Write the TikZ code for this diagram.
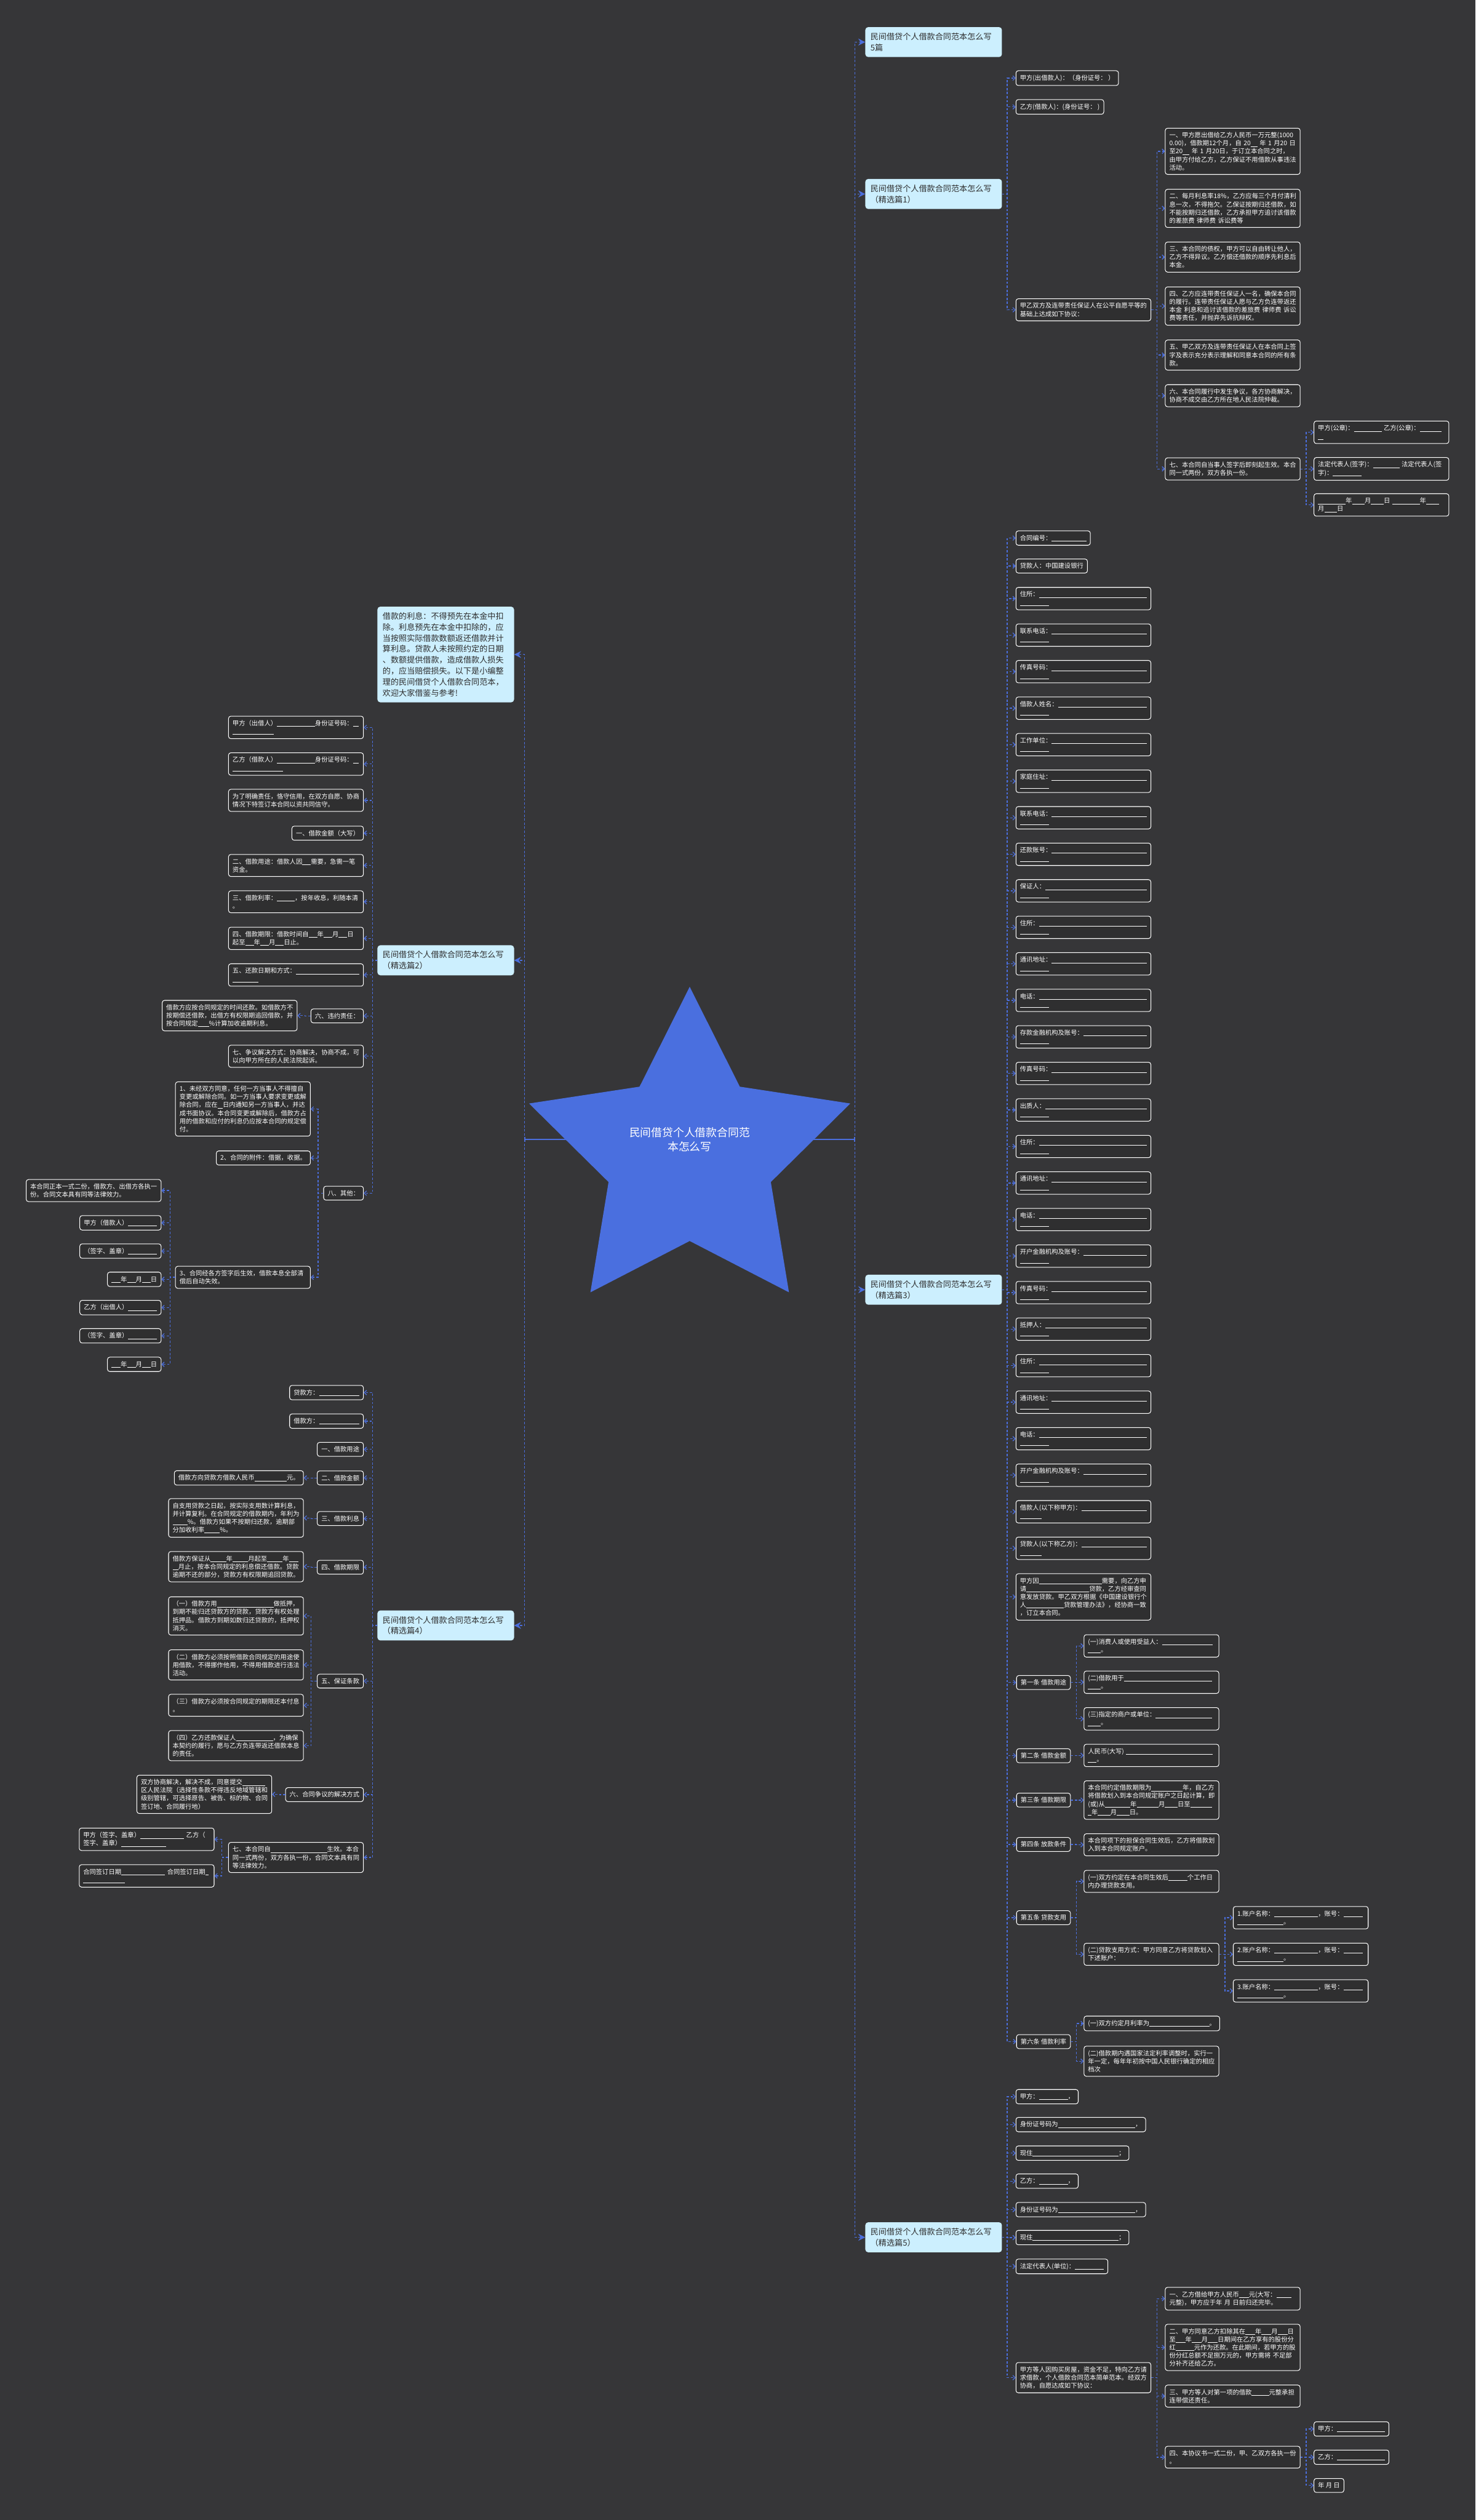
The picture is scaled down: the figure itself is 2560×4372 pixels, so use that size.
\documentclass[tikz,border=0pt]{standalone}
\usepackage{fontspec}
\newfontfamily\cjk{Noto Sans CJK SC}
\usetikzlibrary{arrows.meta}
\definecolor{bgc}{HTML}{363638}
\definecolor{leafbg}{HTML}{2F2F30}
\definecolor{topicbg}{HTML}{CCEFFE}
\definecolor{topictext}{HTML}{2E2E2E}
\definecolor{linkblue}{HTML}{4B6EDC}
\definecolor{starblue}{HTML}{4A6FDF}
\newcommand\fillin[1]{\rule[-1.6pt]{#1pt}{0.7pt}}
\newcommand\blankfill{\leavevmode\leaders\hrule height -0.9pt depth 1.6pt\hfill\kern0pt}

\begin{document}
\begin{tikzpicture}[x=1pt,y=-1pt,
  leaf/.style={draw=white,line width=1.1pt,fill=leafbg,rounded corners=4pt,text=white,
    font=\cjk\fontsize{11}{14}\selectfont,inner xsep=7pt,inner ysep=7pt,align=left},
  wide/.style={leaf,text width=220pt},
  topic/.style={fill=topicbg,rounded corners=5pt,text=topictext,
    font=\cjk\fontsize{14}{19}\selectfont,text width=219pt,inner xsep=9pt,inner ysep=10pt,align=left},
  link/.style={draw=linkblue,line width=1.4pt,dash pattern=on 4pt off 3pt,
    -{Straight Barb[length=4pt,width=8pt]}},
  main/.style={draw=linkblue,line width=1.4pt,dash pattern=on 4pt off 3pt,
    -{Stealth[length=12pt,width=12pt,inset=4pt]}}]
  \useasboundingbox (0,0) rectangle (2560,4372);
  \fill[bgc] (0,0) rectangle (2560,4372);

  \coordinate (lhub) at (910,1977);
  \coordinate (rhub) at (1483,1977);
  \draw[linkblue,line width=2pt,{Bar[width=8pt]}-{Bar[width=8pt]}] (lhub) -- (rhub);
  \foreach \k in {0,...,4} {
    \coordinate (so\k) at ({1196.5+293*cos(90+72*\k)},{2005-293*sin(90+72*\k)});
    \coordinate (si\k) at ({1196.5+148*cos(126+72*\k)},{2005-148*sin(126+72*\k)});
  }
  \fill[starblue] (so0) -- (si0) -- (so1) -- (si1) -- (so2) -- (si2) -- (so3) -- (si3) -- (so4) -- (si4) -- cycle;
  \node[text=white,font=\cjk\fontsize{19}{25}\selectfont,align=center] (root) at (1196.5,1977)
    {民间借贷个人借款合同范\\本怎么写};

  \node[topic,anchor=west] (jx0) at (1501,73) {民间借贷个人借款合同范本怎么写\\5篇};
  \node[topic,anchor=west] (jx1) at (1501,336.5) {民间借贷个人借款合同范本怎么写\\（精选篇1）};
  \node[topic,anchor=west] (jx3) at (1501,2237.5) {民间借贷个人借款合同范本怎么写\\（精选篇3）};
  \node[topic,anchor=west] (jx5) at (1501,3881.5) {民间借贷个人借款合同范本怎么写\\（精选篇5）};
  \node[topic,anchor=east] (intro) at (892,1135.5)
    {借款的利息：不得预先在本金中扣\\除。利息预先在本金中扣除的，应\\当按照实际借款数额返还借款并计\\算利息。贷款人未按照约定的日期\\、数额提供借款，造成借款人损失\\的，应当赔偿损失。以下是小编整\\理的民间借贷个人借款合同范本，\\欢迎大家借鉴与参考!};
  \node[topic,anchor=east] (jx2) at (892,1666) {民间借贷个人借款合同范本怎么写\\（精选篇2）};
  \node[topic,anchor=east] (jx4) at (892,2820) {民间借贷个人借款合同范本怎么写\\（精选篇4）};

  \node[leaf,anchor=west] (jf1) at (1762,135.5) {甲方(出借款人)：（身份证号：~）};
  \node[leaf,anchor=west] (yf1) at (1762,185.5) {乙方(借款人)：(身份证号：~)};
  \node[wide,anchor=west] (xy1) at (1762,537.5) {甲乙双方及连带责任保证人在公平自愿平等的\\基础上达成如下协议：};
  \node[wide,anchor=west] (t1) at (2021,262.5) {一、甲方愿出借给乙方人民币一万元整(1000\\0.00)，借款期12个月，自~20\fillin{12}~年~1~月20~日\\至20\fillin{12}~年~1~月20日，于订立本合同之时，\\由甲方付给乙方，乙方保证不用借款从事违法\\活动。};
  \node[wide,anchor=west] (t2) at (2021,361.5) {二、每月利息率18\%，乙方应每三个月付清利\\息一次，不得拖欠。乙保证按期归还借款，如\\不能按期归还借款，乙方承担甲方追讨该借款\\的差旅费~律师费~诉讼费等};
  \node[wide,anchor=west] (t3) at (2021,446) {三、本合同的债权，甲方可以自由转让他人，\\乙方不得异议。乙方偿还借款的顺序先利息后\\本金。};
  \node[wide,anchor=west] (t4) at (2021,531) {四、乙方应连带责任保证人一名，确保本合同\\的履行。连带责任保证人愿与乙方负连带返还\\本金~利息和追讨该借款的差旅费~律师费~诉讼\\费等责任，并抛弃先诉抗辩权。};
  \node[wide,anchor=west] (t5) at (2021,616) {五、甲乙双方及连带责任保证人在本合同上签\\字及表示充分表示理解和同意本合同的所有条\\款。};
  \node[wide,anchor=west] (t6) at (2021,686.5) {六、本合同履行中发生争议，各方协商解决，\\协商不成交由乙方所在地人民法院仲裁。};
  \node[wide,anchor=west] (t7) at (2021,813.5) {七、本合同自当事人签字后即刻起生效。本合\\同一式两份，双方各执一份。};
  \node[wide,anchor=west] (s1) at (2279,750) {甲方(公章)：\fillin{48}~乙方(公章)：\fillin{38}\\\fillin{9}};
  \node[wide,anchor=west] (s2) at (2279,813.5) {法定代表人(签字)：\fillin{46}~法定代表人(签\\字)：\fillin{50}};
  \node[wide,anchor=west] (s3) at (2279,876) {\fillin{48}年\fillin{22}月\fillin{22}日~\fillin{48}年\fillin{22}\\月\fillin{22}日};

  \node[leaf,anchor=west] (bh) at (1762,933.5) {合同编号：\fillin{60}};
  \node[leaf,anchor=west] (dkr) at (1762,982) {贷款人：中国建设银行};
  \foreach \lab [count=\i from 0] in {住所,联系电话,传真号码,借款人姓名,工作单位,家庭住址,联系电话,还款账号,保证人,住所,通讯地址,电话,存款金融机构及账号,传真号码,出质人,住所,通讯地址,电话,开户金融机构及账号,传真号码,抵押人,住所,通讯地址,电话,开户金融机构及账号}
    \node[wide,anchor=west] (f\i) at (1762,{1038.5+63.37*\i}) {\lab：\blankfill\\\fillin{50}};
  \node[wide,anchor=west] (f25) at (1762,{1038.5+63.37*25}) {借款人(以下称甲方)：\blankfill\\\fillin{38}};
  \node[wide,anchor=west] (f26) at (1762,{1038.5+63.37*26}) {贷款人(以下称乙方)：\blankfill\\\fillin{38}};
  \node[wide,anchor=west] (sq) at (1762,2770.5) {甲方因\fillin{109}需要，向乙方申\\请\fillin{109}贷款，乙方经审查同\\意发放贷款。甲乙双方根据《中国建设银行个\\人\fillin{65}贷款管理办法》，经协商一致\\，订立本合同。};
  \node[leaf,anchor=west] (a1) at (1763,2919) {第一条~借款用途};
  \node[leaf,anchor=west] (a2) at (1763,3046) {第二条~借款金额};
  \node[leaf,anchor=west] (a3) at (1763,3123) {第三条~借款期限};
  \node[leaf,anchor=west] (a4) at (1763,3200) {第四条~放款条件};
  \node[leaf,anchor=west] (a5) at (1763,3327) {第五条~贷款支用};
  \node[leaf,anchor=west] (a6) at (1763,3542) {第六条~借款利率};
  \node[wide,anchor=west] (a1a) at (1880,2855.5) {(一)消费人或使用受益人：\fillin{88}\\\fillin{22}。};
  \node[wide,anchor=west] (a1b) at (1880,2918.5) {(二)借款用于\fillin{153}\\\fillin{22}。};
  \node[wide,anchor=west] (a1c) at (1880,2982) {(三)指定的商户或单位：\fillin{98}\\\fillin{22}。};
  \node[wide,anchor=west] (a2a) at (1880,3045.5) {人民币(大写)~\fillin{150}\\\fillin{15}。};
  \node[wide,anchor=west] (a3a) at (1880,3123) {本合同约定借款期限为\fillin{54}年，自乙方\\将借款划入到本合同规定账户之日起计算，即\\(或)从\fillin{44}年\fillin{38}月\fillin{22}日至\fillin{38}\\\fillin{6}年\fillin{22}月\fillin{22}日。};
  \node[wide,anchor=west] (a4a) at (1880,3200.5) {本合同项下的担保合同生效后，乙方将借款划\\入到本合同规定账户。};
  \node[wide,anchor=west] (a5a) at (1880,3264) {(一)双方约定在本合同生效后\fillin{33}个工作日\\内办理贷款支用。};
  \node[wide,anchor=west] (a5b) at (1880,3390.5) {(二)贷款支用方式：甲方同意乙方将贷款划入\\下述账户：};
  \node[wide,anchor=west] (zh1) at (2139,3327) {1.账户名称：\fillin{76}，账号：\fillin{33}\\\fillin{80}。};
  \node[wide,anchor=west] (zh2) at (2139,3390.5) {2.账户名称：\fillin{76}，账号：\fillin{33}\\\fillin{80}。};
  \node[wide,anchor=west] (zh3) at (2139,3454) {3.账户名称：\fillin{76}，账号：\fillin{33}\\\fillin{80}。};
  \node[leaf,anchor=west] (a6a) at (1880,3510.5) {(一)双方约定月利率为\fillin{104}。};
  \node[wide,anchor=west] (a6b) at (1880,3576) {(二)借款期内遇国家法定利率调整时，实行一\\年一定，每年年初按中国人民银行确定的相应\\档次};

  \node[leaf,anchor=west] (p1) at (1762,3637.5) {甲方：\fillin{50}，};
  \node[leaf,anchor=west] (p2) at (1762,3686) {身份证号码为\fillin{134}，};
  \node[leaf,anchor=west] (p3) at (1762,3735.5) {现住\fillin{149}；};
  \node[leaf,anchor=west] (p4) at (1762,3784) {乙方：\fillin{50}，};
  \node[leaf,anchor=west] (p5) at (1762,3833.5) {身份证号码为\fillin{134}，};
  \node[leaf,anchor=west] (p6) at (1762,3882) {现住\fillin{149}；};
  \node[leaf,anchor=west] (p7) at (1762,3932) {法定代表人(单位)：\fillin{50}};
  \node[wide,anchor=west] (p8) at (1762,4125) {甲方等人因购买房屋，资金不足，特向乙方请\\求借款，个人借款合同范本简单范本。经双方\\协商，自愿达成如下协议：};
  \node[wide,anchor=west] (q1) at (2021,3988) {一、乙方借给甲方人民币\fillin{17}元(大写：\fillin{26}\\元整)，甲方应于年~月~日前归还完毕。};
  \node[wide,anchor=west] (q2) at (2021,4072.5) {二、甲方同意乙方扣除其在\fillin{17}年\fillin{17}月\fillin{17}日\\至\fillin{17}年\fillin{17}月\fillin{17}日期间在乙方享有的股份分\\红\fillin{32}元作为还款。在此期间，若甲方的股\\份分红总额不足捌万元的，甲方需将~不足部\\分补齐还给乙方。};
  \node[wide,anchor=west] (q3) at (2021,4157) {三、甲方等人对第一项的借款\fillin{30}元整承担\\连带偿还责任。};
  \node[wide,anchor=west] (q4) at (2021,4263) {四、本协议书一式二份，甲、乙双方各执一份\\。};
  \node[leaf,anchor=west] (r1) at (2279,4214) {甲方：\fillin{83}};
  \node[leaf,anchor=west] (r2) at (2279,4263) {乙方：\fillin{83}};
  \node[leaf,anchor=west] (r3) at (2279,4312) {年~月~日};

  \node[wide,anchor=east] (b1) at (631,1262) {甲方（出借人）\fillin{66}身份证号码：\fillin{10}\\\fillin{72}};
  \node[wide,anchor=east] (b2) at (631,1325.5) {乙方（借款人）\fillin{66}身份证号码：\fillin{10}\\\fillin{88}};
  \node[wide,anchor=east] (b3) at (631,1388.5) {为了明确责任，恪守信用，在双方自愿、协商\\情况下特签订本合同以资共同信守。};
  \node[leaf,anchor=east] (b4) at (631,1445.5) {一、借款金额（大写）};
  \node[wide,anchor=east] (b5) at (631,1501.5) {二、借款用途：借款人因\fillin{15}需要，急需一笔\\资金。};
  \node[wide,anchor=east] (b6) at (631,1564.5) {三、借款利率：\fillin{31}，按年收息，利随本清\\。};
  \node[wide,anchor=east] (b7) at (631,1628) {四、借款期限：借款时间自\fillin{15}年\fillin{15}月\fillin{15}日\\起至\fillin{15}年\fillin{15}月\fillin{15}日止。};
  \node[wide,anchor=east] (b8) at (631,1691.5) {五、还款日期和方式：\blankfill\\\fillin{45}};
  \node[leaf,anchor=east] (b9) at (631,1762.5) {六、违约责任：};
  \node[wide,anchor=east] (b10) at (631,1832.5) {七、争议解决方式：协商解决，协商不成，可\\以向甲方所在的人民法院起诉。};
  \node[leaf,anchor=east] (b11) at (631,2070) {八、其他：};
  \node[wide,anchor=east] (b9a) at (516,1762) {借款方应按合同规定的时间还款。如借款方不\\按期偿还借款，出借方有权限期追回借款，并\\按合同规定\fillin{19}\%计算加收逾期利息。};
  \node[wide,anchor=east] (c1) at (539,1924) {1、未经双方同意，任何一方当事人不得擅自\\变更或解除合同。如一方当事人要求变更或解\\除合同，应在\fillin{9}日内通知另一方当事人，并达\\成书面协议。本合同变更或解除后，借款方占\\用的借款和应付的利息仍应按本合同的规定偿\\付。};
  \node[leaf,anchor=east] (c2) at (539,2009) {2、合同的附件：借据，收据。};
  \node[wide,anchor=east] (c3) at (539,2216) {3、合同经各方签字后生效，借款本息全部清\\偿后自动失效。};
  \node[wide,anchor=east] (d1) at (280,2065.5) {本合同正本一式二份，借款方、出借方各执一\\份。合同文本具有同等法律效力。};
  \node[leaf,anchor=east] (d2) at (280,2121.5) {甲方（借款人）\fillin{50}};
  \node[leaf,anchor=east] (d3) at (280,2170.5) {（签字、盖章）\fillin{50}};
  \node[leaf,anchor=east] (d4) at (280,2219.5) {\fillin{16}年\fillin{15}月\fillin{15}日};
  \node[leaf,anchor=east] (d5) at (280,2268.5) {乙方（出借人）\fillin{50}};
  \node[leaf,anchor=east] (d6) at (280,2317.5) {（签字、盖章）\fillin{50}};
  \node[leaf,anchor=east] (d7) at (280,2367) {\fillin{16}年\fillin{15}月\fillin{15}日};

  \node[leaf,anchor=east] (e1) at (631,2416) {贷款方：\fillin{70}};
  \node[leaf,anchor=east] (e2) at (631,2465.5) {借款方：\fillin{70}};
  \node[leaf,anchor=east] (e3) at (631,2514.5) {一、借款用途};
  \node[leaf,anchor=east] (e4) at (631,2564) {二、借款金额};
  \node[leaf,anchor=east] (e5) at (631,2634.5) {三、借款利息};
  \node[leaf,anchor=east] (e6) at (631,2719) {四、借款期限};
  \node[leaf,anchor=east] (e7) at (631,2916.5) {五、保证条款};
  \node[leaf,anchor=east] (e8) at (631,3113.5) {六、合同争议的解决方式};
  \node[wide,anchor=east] (e9) at (631,3222.5) {七、本合同自\fillin{98}生效。本合\\同一式两份，双方各执一份，合同文本具有同\\等法律效力。};
  \node[leaf,anchor=east] (e4a) at (527,2564) {借款方向贷款方借款人民币\fillin{56}元。};
  \node[wide,anchor=east] (e5a) at (527,2633.5) {自支用贷款之日起，按实际支用数计算利息，\\并计算复利。在合同规定的借款期内，年利为\\\fillin{26}\%。借款方如果不按期归还款，逾期部\\分加收利率\fillin{27}\%。};
  \node[wide,anchor=east] (e6a) at (527,2718) {借款方保证从\fillin{27}年\fillin{27}月起至\fillin{27}年\fillin{16}\\\fillin{10}月止，按本合同规定的利息偿还借款。贷款\\逾期不还的部分，贷款方有权限期追回贷款。};
  \node[wide,anchor=east] (g1) at (527,2803.5) {（一）借款方用\fillin{98}做抵押，\\到期不能归还贷款方的贷款，贷款方有权处理\\抵押品。借款方到期如数归还贷款的，抵押权\\消灭。};
  \node[wide,anchor=east] (g2) at (527,2888.5) {（二）借款方必须按照借款合同规定的用途使\\用借款，不得挪作他用，不得用借款进行违法\\活动。};
  \node[wide,anchor=east] (g3) at (527,2958.5) {（三）借款方必须按合同规定的期限还本付息\\。};
  \node[wide,anchor=east] (g4) at (527,3028.5) {（四）乙方还款保证人\fillin{64}，为确保\\本契约的履行，愿与乙方负连带返还借款本息\\的责任。};
  \node[wide,anchor=east] (e8a) at (472,3113) {双方协商解决，解决不成，同意提交\fillin{40}\\区人民法院（选择性条款不得违反地域管辖和\\级别管辖，可选择原告、被告、标的物、合同\\签订地、合同履行地）};
  \node[wide,anchor=east] (h1) at (372,3191) {甲方（签字、盖章）\fillin{76}~乙方（\\签字、盖章）\fillin{78}};
  \node[wide,anchor=east] (h2) at (372,3254.5) {合同签订日期\fillin{76}~合同签订日期\fillin{6}\\\fillin{72}};

  \foreach \t in {jx0,jx1,jx3,jx5} \draw[main] (rhub) |- (\t.west);
  \foreach \t in {intro,jx2,jx4} \draw[main] (lhub) |- (\t.east);
  \foreach \c in {jf1,yf1,xy1} \draw[link] (jx1.east) -- ++(9,0) |- (\c.west);
  \foreach \i in {1,...,7} \draw[link] (xy1.east) -- ++(10,0) |- (t\i.west);
  \foreach \i in {1,2,3} \draw[link] (t7.east) -- ++(10,0) |- (s\i.west);
  \foreach \c in {bh,dkr,sq,a1,a2,a3,a4,a5,a6} \draw[link] (jx3.east) -- ++(9,0) |- (\c.west);
  \foreach \i in {0,...,26} \draw[link] (jx3.east) -- ++(9,0) |- (f\i.west);
  \foreach \c in {a1a,a1b,a1c} \draw[link] (a1.east) -- ++(10,0) |- (\c.west);
  \draw[link] (a2.east) -- ++(10,0) |- (a2a.west);
  \draw[link] (a3.east) -- ++(10,0) |- (a3a.west);
  \draw[link] (a4.east) -- ++(10,0) |- (a4a.west);
  \foreach \c in {a5a,a5b} \draw[link] (a5.east) -- ++(10,0) |- (\c.west);
  \foreach \i in {1,2,3} \draw[link] (a5b.east) -- ++(10,0) |- (zh\i.west);
  \foreach \c in {a6a,a6b} \draw[link] (a6.east) -- ++(10,0) |- (\c.west);
  \foreach \i in {1,...,8} \draw[link] (jx5.east) -- ++(9,0) |- (p\i.west);
  \foreach \i in {1,...,4} \draw[link] (p8.east) -- ++(10,0) |- (q\i.west);
  \foreach \i in {1,2,3} \draw[link] (q4.east) -- ++(10,0) |- (r\i.west);
  \foreach \i in {1,...,11} \draw[link] (jx2.west) -- ++(-8,0) |- (b\i.east);
  \draw[link] (b9.west) -- ++(-10,0) |- (b9a.east);
  \foreach \c in {c1,c2,c3} \draw[link] (b11.west) -- ++(-9,0) |- (\c.east);
  \foreach \i in {1,...,7} \draw[link] (c3.west) -- ++(-9,0) |- (d\i.east);
  \foreach \i in {1,...,9} \draw[link] (jx4.west) -- ++(-8,0) |- (e\i.east);
  \draw[link] (e4.west) -- ++(-10,0) |- (e4a.east);
  \draw[link] (e5.west) -- ++(-10,0) |- (e5a.east);
  \draw[link] (e6.west) -- ++(-10,0) |- (e6a.east);
  \foreach \i in {1,...,4} \draw[link] (e7.west) -- ++(-10,0) |- (g\i.east);
  \draw[link] (e8.west) -- ++(-10,0) |- (e8a.east);
  \foreach \i in {1,2} \draw[link] (e9.west) -- ++(-11,0) |- (h\i.east);
\end{tikzpicture}
\end{document}
